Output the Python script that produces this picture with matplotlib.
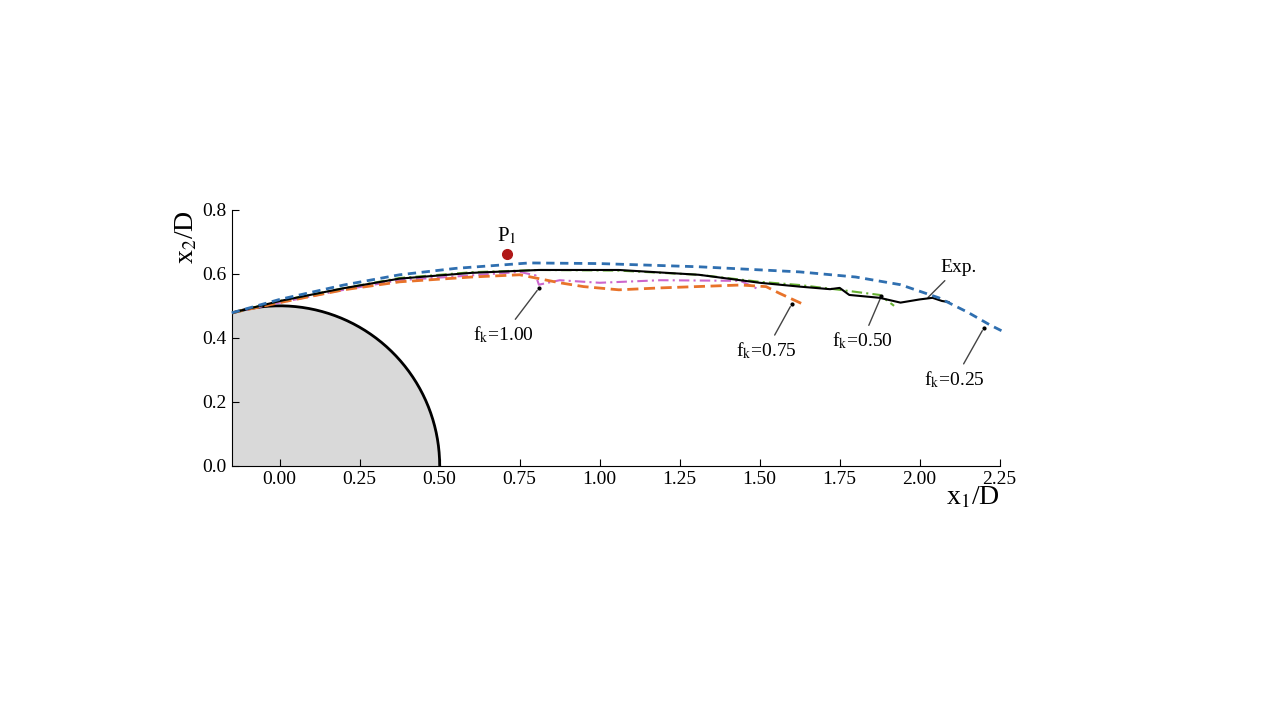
import matplotlib
matplotlib.use("Agg")
import matplotlib.pyplot as plt
import numpy as np

plt.rcParams['font.family'] = ['Liberation Serif', 'DejaVu Serif']
plt.rcParams['mathtext.fontset'] = 'stix'

# Separation-line data (x1/D, x2/D)
fk025_x = [-0.15, 0.0, 0.2, 0.375, 0.55, 0.78, 1.0, 1.31, 1.625, 1.8, 1.94, 2.06, 2.15, 2.22, 2.27]
fk025_y = [0.478, 0.52, 0.565, 0.597, 0.617, 0.634, 0.632, 0.622, 0.606, 0.59, 0.566, 0.525, 0.48, 0.44, 0.415]
exp_x = [-0.15, 0.0, 0.2, 0.375, 0.6, 0.81, 1.06, 1.31, 1.5, 1.625, 1.72, 1.75, 1.78, 1.875, 1.94, 2.0, 2.04, 2.07, 2.09]
exp_y = [0.478, 0.515, 0.555, 0.585, 0.603, 0.612, 0.612, 0.597, 0.572, 0.56, 0.552, 0.556, 0.534, 0.525, 0.51, 0.52, 0.525, 0.515, 0.512]
fk050_x = [-0.15, 0.0, 0.2, 0.375, 0.6, 0.81, 1.06, 1.31, 1.5, 1.625, 1.75, 1.875, 1.92]
fk050_y = [0.478, 0.515, 0.555, 0.587, 0.605, 0.612, 0.61, 0.597, 0.575, 0.565, 0.55, 0.534, 0.5]
fk075_x = [-0.15, 0.0, 0.2, 0.375, 0.6, 0.75, 0.81, 0.875, 0.95, 1.06, 1.19, 1.44, 1.52, 1.56, 1.64]
fk075_y = [0.478, 0.51, 0.55, 0.575, 0.59, 0.597, 0.585, 0.572, 0.56, 0.55, 0.556, 0.565, 0.56, 0.54, 0.503]
fk100_x = [-0.15, 0.0, 0.2, 0.375, 0.6, 0.75, 0.8, 0.81, 0.875, 1.0, 1.19, 1.44, 1.5]
fk100_y = [0.478, 0.51, 0.55, 0.58, 0.595, 0.606, 0.595, 0.566, 0.58, 0.572, 0.58, 0.578, 0.55]
p1 = (0.71, 0.662)

fig = plt.figure(figsize=(12.8, 7.2), dpi=100)
ax = fig.add_axes([0.181, 0.353, 0.6, 0.3556])

th = np.linspace(0, np.pi, 300)
ax.fill(0.5 * np.cos(th), 0.5 * np.sin(th), color='#d9d9d9', zorder=1)
ax.plot(0.5 * np.cos(th), 0.5 * np.sin(th), color='black', lw=2, zorder=2)

ax.plot(fk100_x, fk100_y, color='#cc66cc', ls=(0, (5, 2, 1, 2)), lw=1.5, zorder=3)
ax.plot(fk075_x, fk075_y, color='#e8732a', ls=(0, (4, 2)), lw=2, zorder=3)
ax.plot(fk050_x, fk050_y, color='#66b032', ls=(0, (5, 2, 1, 2)), lw=1.5, zorder=4)
ax.plot(exp_x, exp_y, color='black', ls='-', lw=1.5, zorder=5)
ax.plot(fk025_x, fk025_y, color='#2f6fb0', ls=(0, (3, 2)), lw=2, zorder=6, clip_on=False)

ax.plot([p1[0]], [p1[1]], 'o', color='#b01818', ms=7, zorder=7)
ax.text(p1[0], p1[1] + 0.025, r'P$_1$', fontsize=15, ha='center', va='bottom')

ann = dict(arrowprops=dict(arrowstyle='-', color='#444444', lw=1), fontsize=14, ha='center', va='center')
ax.annotate(r'f$_\mathrm{k}$=1.00', xy=(0.81, 0.555), xytext=(0.7, 0.41), **ann)
ax.annotate(r'f$_\mathrm{k}$=0.75', xy=(1.6, 0.505), xytext=(1.52, 0.36), **ann)
ax.annotate(r'f$_\mathrm{k}$=0.50', xy=(1.88, 0.53), xytext=(1.82, 0.39), **ann)
ax.annotate(r'f$_\mathrm{k}$=0.25', xy=(2.2, 0.43), xytext=(2.11, 0.27), **ann)
ax.annotate('Exp.', xy=(2.02, 0.52), xytext=(2.12, 0.62), **ann)
for p in [(0.81, 0.555), (1.6, 0.505), (1.88, 0.53), (2.2, 0.43)]:
    ax.plot(*p, 'o', color='black', ms=2, zorder=8)

ax.set_xlim(-0.15, 2.25)
ax.set_ylim(0, 0.8)
ax.set_xticks([0, 0.25, 0.5, 0.75, 1.0, 1.25, 1.5, 1.75, 2.0, 2.25])
ax.set_xticklabels(['0.00', '0.25', '0.50', '0.75', '1.00', '1.25', '1.50', '1.75', '2.00', '2.25'])
ax.set_yticks([0, 0.2, 0.4, 0.6, 0.8])
ax.set_yticklabels(['0.0', '0.2', '0.4', '0.6', '0.8'])
ax.tick_params(direction='in', labelsize=14, length=5)
for s in ['top', 'right']:
    ax.spines[s].set_visible(False)
ax.text(-0.33, 0.8, r'x$_2$/D', rotation=90, fontsize=20, ha='left', va='top')
ax.text(2.25, -0.06, r'x$_1$/D', fontsize=20, ha='right', va='top')

fig.savefig('out.png', dpi=100)
